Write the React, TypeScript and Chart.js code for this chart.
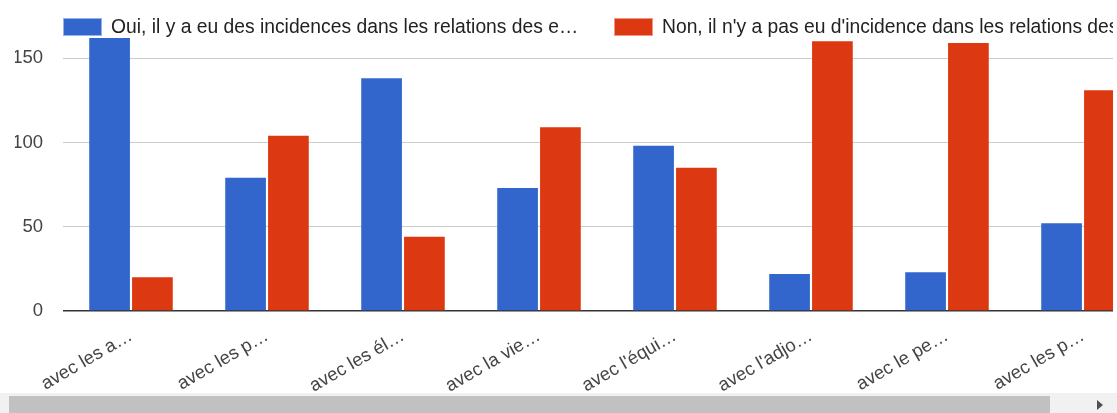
import React, { useEffect, useRef } from "react";
import { Chart, registerables } from "chart.js";

Chart.register(...registerables);

const categories = [
  "avec les a…",
  "avec les p…",
  "avec les él…",
  "avec la vie…",
  "avec l'équi…",
  "avec l'adjo…",
  "avec le pe…",
  "avec les p…",
];

const seriesLabels = [
  "Oui, il y a eu des incidences dans les relations des e…",
  "Non, il n'y a pas eu d'incidence dans les relations des e…",
];

const ouiValues = [162, 79, 138, 73, 98, 22, 23, 52];
const nonValues = [20, 104, 44, 109, 85, 160, 159, 131];

const yTicks = [0, 50, 100, 150];

const BLUE = "#3366CC";
const RED = "#DC3912";
const FONT = "'Liberation Sans', Arial, sans-serif";

const legendPlugin = {
  id: "topLegend",
  afterDraw(chart: any, _args: any, opts: any) {
    const ctx = chart.ctx;
    ctx.save();
    chart.data.datasets.forEach((ds: any, i: number) => {
      const x = opts.xs[i];
      const y = opts.y;
      ctx.fillStyle = ds.backgroundColor;
      ctx.fillRect(x, y, opts.boxW, opts.boxH);
      ctx.strokeStyle = ds.legendBorder;
      ctx.lineWidth = 1;
      ctx.strokeRect(x + 0.5, y + 0.5, opts.boxW - 1, opts.boxH - 1);
      ctx.fillStyle = "#222";
      ctx.font = `${opts.fontSize}px ${FONT}`;
      ctx.textBaseline = "middle";
      ctx.textAlign = "left";
      ctx.fillText(ds.label, x + opts.boxW + opts.gap, y + opts.boxH / 2 + 1);
    });
    ctx.restore();
  },
};

export default function App() {
  const ref = useRef<HTMLCanvasElement | null>(null);

  useEffect(() => {
    if (!ref.current) return;
    const chart = new Chart(ref.current, {
      type: "bar",
      data: {
        labels: categories,
        datasets: [
          {
            label: seriesLabels[0],
            data: ouiValues,
            backgroundColor: BLUE,
            legendBorder: "rgba(150,180,235,1)",
            categoryPercentage: 0.63,
            barPercentage: 0.95,
          } as any,
          {
            label: seriesLabels[1],
            data: nonValues,
            backgroundColor: RED,
            legendBorder: "rgba(240,150,130,1)",
            categoryPercentage: 0.63,
            barPercentage: 0.95,
          } as any,
        ],
      },
      options: {
        animation: false,
        responsive: false,
        maintainAspectRatio: false,
        layout: { padding: { top: 16, left: 15, right: 12, bottom: 0 } },
        plugins: {
          legend: { display: false },
          tooltip: { enabled: false },
          topLegend: {
            xs: [63, 614],
            y: 18,
            boxW: 39,
            boxH: 18,
            gap: 9,
            fontSize: 19.3,
          },
        } as any,
        scales: {
          x: {
            afterFit: (scale: any) => {
              scale.paddingLeft = 0;
              scale.paddingRight = 0;
              scale.height = 82;
            },
            grid: { display: false },
            border: { display: false },
            ticks: {
              color: "#444",
              font: { family: FONT, size: 18.5 },
              minRotation: 30,
              maxRotation: 30,
              autoSkip: false,
              padding: 6,
            },
          },
          y: {
            min: 0,
            max: 175,
            afterBuildTicks: (scale: any) => {
              scale.ticks = yTicks.map((v) => ({ value: v }));
            },
            afterFit: (scale: any) => {
              scale.paddingTop = 0;
              scale.paddingBottom = 0;
              scale.width = 48;
            },
            border: { display: false },
            grid: {
              drawTicks: false,
              color: (c: any) => (c.tick && c.tick.value === 0 ? "#333" : "#ccc"),
              lineWidth: (c: any) => (c.tick && c.tick.value === 0 ? 1.5 : 1),
            },
            ticks: {
              color: "#444",
              font: { family: FONT, size: 18.5 },
              padding: 20,
            },
          },
        },
      },
      plugins: [legendPlugin],
    });
    return () => chart.destroy();
  }, []);

  return (
    <div style={{ position: "absolute", left: 0, top: 0, width: 1117, height: 413, background: "#fff", overflow: "hidden" }}>
      <div style={{ position: "absolute", left: 0, top: 0, width: 1113, height: 393, overflow: "hidden" }}>
        <canvas ref={ref} width={1163} height={393} style={{ display: "block", width: 1163, height: 393 }} />
      </div>
      <div style={{ position: "absolute", left: 0, top: 393, width: 1117, height: 20, background: "#f1f1f1" }} />
      <div style={{ position: "absolute", left: 9, top: 396, width: 1041, height: 17, background: "#c1c1c1" }} />
      <div
        style={{
          position: "absolute",
          left: 1097,
          top: 400,
          width: 0,
          height: 0,
          borderLeft: "6px solid #505050",
          borderTop: "5px solid transparent",
          borderBottom: "5px solid transparent",
        }}
      />
    </div>
  );
}
